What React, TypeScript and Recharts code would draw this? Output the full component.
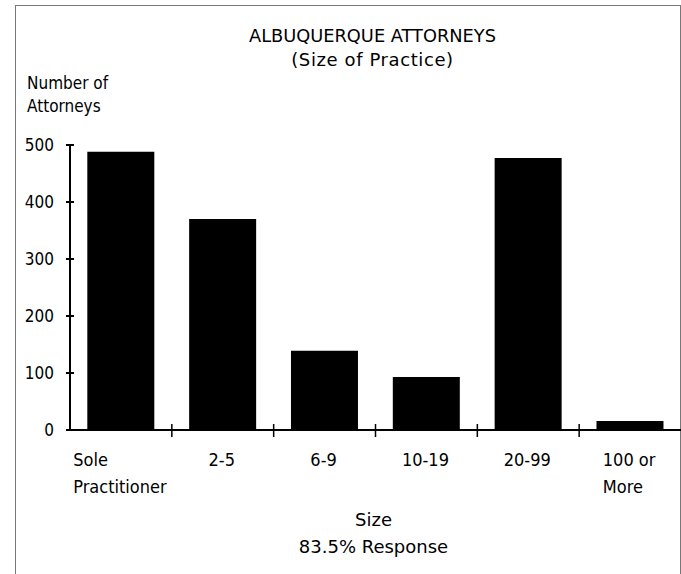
import React from 'react';
import { BarChart, Bar, XAxis, YAxis, Label } from 'recharts';

const categories = ['Sole Practitioner', '2-5', '6-9', '10-19', '20-99', '100 or More'];
const tickLines = [['Sole', 'Practitioner'], ['2-5'], ['6-9'], ['10-19'], ['20-99'], ['100 or', 'More']];
const attorneys = [488, 370, 139, 93, 477, 16];
const yTicks = [0, 100, 200, 300, 400, 500];
const titleText = 'ALBUQUERQUE ATTORNEYS';
const subtitleText = '(Size of Practice)';
const yTitleLines = ['Number of', 'Attorneys'];
const xTitleLines = ['Size', '83.5% Response'];

const data = categories.map((c, i) => ({ cat: c, value: attorneys[i], lines: tickLines[i] }));

const CONDENSED = "'DejaVu Sans Condensed', 'DejaVu Sans', sans-serif";
const NORMAL = "'DejaVu Sans', sans-serif";

let ctx: CanvasRenderingContext2D | null = null;
function measure(text: string, font: string): number {
  if (typeof document === 'undefined') return text.length * 8;
  if (!ctx) ctx = document.createElement('canvas').getContext('2d');
  if (!ctx) return text.length * 8;
  ctx.font = font;
  return ctx.measureText(text).width;
}

const YTick = (props: any) => {
  const { x, y, payload } = props;
  return (
    <g>
      <line x1={x - 4} x2={x + 4} y1={y} y2={y} stroke="#000" strokeWidth={2} />
      <text x={x - 16} y={y + 6} textAnchor="end" fontFamily={CONDENSED} fontSize={17} fill="#000">
        {payload.value}
      </text>
    </g>
  );
};

const XTick = (props: any) => {
  const { x, y, index, width } = props;
  const n = categories.length;
  const band = width ? width / n : 102;
  const lines = tickLines[index] || [];
  const font = `18px "DejaVu Sans Condensed"`;
  const maxW = Math.max(...lines.map((l) => measure(l, font)));
  const left = x - maxW / 2 - 1;
  return (
    <g>
      {index < n - 1 && (
        <line x1={x + band / 2} x2={x + band / 2} y1={y - 6} y2={y + 7} stroke="#000" strokeWidth={1.5} />
      )}
      {lines.map((l, i) => (
        <text key={i} x={left} y={y + 36 + i * 27} textAnchor="start" fontFamily={CONDENSED} fontSize={18} fill="#000">
          {l}
        </text>
      ))}
    </g>
  );
};

const AxisTexts = (props: any) => {
  const { viewBox } = props;
  const cx = viewBox.x + viewBox.width / 2 - 2;
  return (
    <g>
      {xTitleLines.map((l, i) => (
        <text key={i} x={cx} y={526 + i * 27} textAnchor="middle" fontFamily={NORMAL} fontSize={18} fill="#000">
          {l}
        </text>
      ))}
      <text x={cx - 1} y={42} textAnchor="middle" fontFamily={NORMAL} fontSize={17.8} fill="#000">
        {titleText}
      </text>
      <text x={cx - 1} y={66} textAnchor="middle" fontFamily={NORMAL} fontSize={18} letterSpacing={0.6} fill="#000">
        {subtitleText}
      </text>
      {yTitleLines.map((l, i) => (
        <text key={'y' + i} x={27} y={89 + i * 23} textAnchor="start" fontFamily={CONDENSED} fontSize={17} fill="#000">
          {l}
        </text>
      ))}
    </g>
  );
};

export default function App() {
  return (
    <div style={{ position: 'absolute', left: 0, top: 0, width: 681, height: 574, background: '#fff', overflow: 'hidden' }}>
      <svg width={681} height={574} style={{ position: 'absolute', left: 0, top: 0 }}>
        <rect x={15.5} y={5.5} width={665} height={600} fill="none" stroke="#777" strokeWidth={1} />
      </svg>
      <div style={{ position: 'absolute', left: 0, top: 0 }}>
        <BarChart width={681} height={574} data={data} margin={{ top: 145, right: 0, bottom: 0, left: 0 }} barCategoryGap="17%">
          <YAxis
            width={70}
            domain={[0, 500]}
            ticks={yTicks}
            type="number"
            interval={0}
            tickLine={false}
            tickSize={0}
            tickMargin={0}
            axisLine={{ stroke: '#000', strokeWidth: 2 }}
            tick={<YTick />}
          />
          <XAxis
            dataKey="cat"
            height={144}
            interval={0}
            tickLine={false}
            tickSize={0}
            tickMargin={0}
            axisLine={{ stroke: '#000', strokeWidth: 2 }}
            tick={<XTick />}
          >
            <Label content={<AxisTexts />} />
          </XAxis>
          <Bar dataKey="value" fill="#000" isAnimationActive={false} />
        </BarChart>
      </div>
    </div>
  );
}
